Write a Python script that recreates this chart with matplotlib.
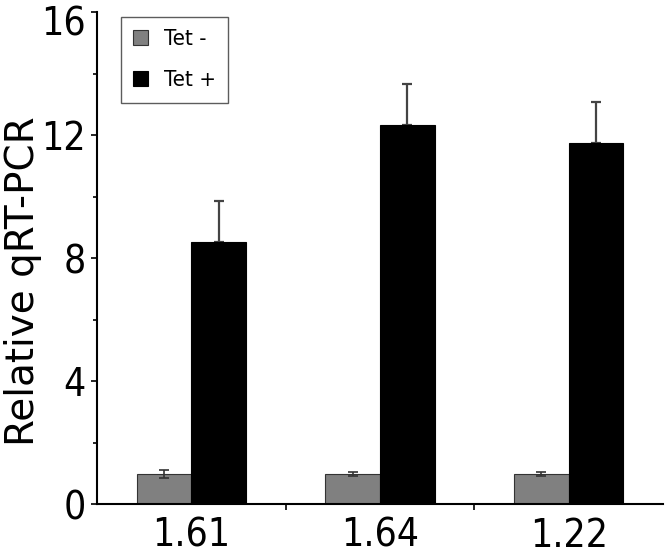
import numpy as np
import matplotlib
matplotlib.use("Agg")
import matplotlib.pyplot as plt
from matplotlib.ticker import MultipleLocator
from matplotlib.transforms import ScaledTranslation

# values
categories = ["1.61", "1.64", "1.22"]
tet_minus = [0.98, 0.98, 0.98]
tet_minus_err = [0.12, 0.06, 0.06]
tet_plus = [8.52, 12.33, 11.74]
tet_plus_err = [1.33, 1.33, 1.33]
y_ticks = [0, 4, 8, 12, 16]

plt.rcParams['font.family'] = ['DejaVu Sans']

fig = plt.figure(figsize=(6.65, 5.56), dpi=100)
ax = fig.add_axes([0.146, 0.0935, 0.851, 0.8845])

x = np.arange(len(categories))
w = 0.29
ax.bar(x - w / 2, tet_minus, w, color='#808080', edgecolor='#333333',
       linewidth=0.8, label='Tet -', zorder=2)
ax.bar(x + w / 2, tet_plus, w, color='black', edgecolor='black',
       linewidth=0.8, label='Tet +', zorder=2)
ax.errorbar(x - w / 2, tet_minus, yerr=tet_minus_err, fmt='none',
            ecolor='#333333', elinewidth=1.2, capsize=3.3, capthick=1.2, zorder=3)
ax.errorbar(x + w / 2, tet_plus, yerr=[[0] * 3, tet_plus_err], fmt='none',
            ecolor='#444444', elinewidth=1.6, capsize=3.3, capthick=1.6, zorder=1)

ax.set_xlim(-0.5, 2.5)
ax.set_ylim(0, 16)
ax.set_yticks(y_ticks)
ax.yaxis.set_minor_locator(MultipleLocator(2))
ax.set_xticks(x)
ax.set_xticklabels(categories)
ax.set_xticks([0.5, 1.5], minor=True)

ax.tick_params(axis='both', which='major', width=1.2)
ax.tick_params(axis='y', which='major', length=4, pad=4)
ax.tick_params(axis='y', which='minor', length=3, width=1.2)
ax.tick_params(axis='x', which='major', length=0, pad=9)
ax.tick_params(axis='x', which='minor', length=4, width=1.2)
for lbl in ax.get_xticklabels() + ax.get_yticklabels():
    lbl.set_fontstretch('condensed')
    lbl.set_fontsize(28)

for s in ['top', 'right']:
    ax.spines[s].set_visible(False)
for s in ['left', 'bottom']:
    ax.spines[s].set_linewidth(1.5)

ax.set_ylabel('Relative qRT-PCR', fontsize=28)
ax.yaxis.set_label_coords(-0.097, 0.453)

leg = ax.legend(loc='upper left', bbox_to_anchor=(0.042, 0.99), borderaxespad=0,
                prop={'family': ['DejaVu Sans'], 'stretch': 'condensed', 'size': 16},
                frameon=True, fancybox=False, edgecolor='#333333',
                handlelength=0.65, handleheight=0.65, labelspacing=0.95,
                borderpad=0.55, handletextpad=0.75)
leg.get_frame().set_linewidth(1.0)

# top label sits a little below its tick in the original
fig.canvas.draw()
top = ax.yaxis.get_major_ticks()[-1].label1
top.set_transform(top.get_transform() + ScaledTranslation(0, -0.08, fig.dpi_scale_trans))

fig.savefig('out.png', dpi=100)
